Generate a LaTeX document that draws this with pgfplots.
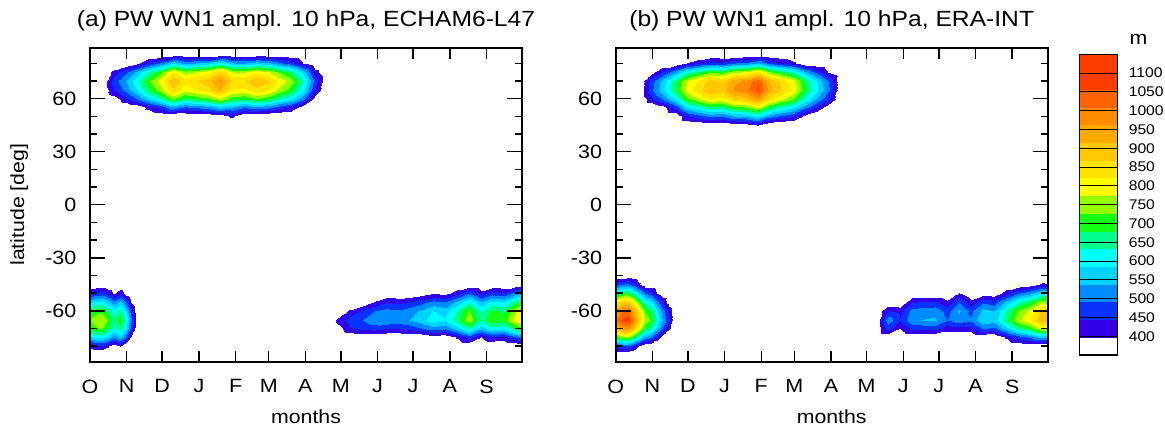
\documentclass[border=0pt]{standalone}
\usepackage{fontspec}
\setmainfont{Liberation Sans}[FakeStretch=1.12]
\usepackage{pgfplots}
\pgfplotsset{compat=1.18}
\pgfkeys{/pgf/number format/assume math mode=true, /pgf/number format/1000 sep={}}

% NCL-like colour table: white below 400, then one colour for every 50 m
\pgfplotsset{colormap={pw}{
  rgb255=(255,255,255) rgb255=(50,0,230) rgb255=(10,50,255) rgb255=(0,140,255)
  rgb255=(0,210,255) rgb255=(0,255,255) rgb255=(0,255,140) rgb255=(20,255,20)
  rgb255=(150,255,0) rgb255=(255,255,0) rgb255=(255,228,0) rgb255=(255,200,0)
  rgb255=(255,170,0) rgb255=(255,140,0) rgb255=(255,100,0) rgb255=(255,60,0)
  rgb255=(255,60,0)}}

\pgfplotsset{
  levels/.style={colormap name=pw, colormap access=piecewise constant,
    point meta min=350, point meta max=1150},
  panel/.style={
    scale only axis, width=216pt, height=157pt, anchor=south west,
    xmin=0, xmax=365, ymin=-88.8, ymax=88.8,
    xtick={0,31,61,92,123,151,182,212,243,273,304,335},
    xticklabels={O,N,D,J,F,M,A,M,J,J,A,S},
    ytick={-60,-30,0,30,60},
    minor ytick={-80,-70,-50,-40,-20,-10,10,20,40,50,70,80},
    tick align=inside,
    axis line style={line width=1pt},
    every tick/.style={black, line width=0.75pt},
    xtick style={/pgfplots/major tick length=5.5pt},
    ytick style={/pgfplots/major tick length=7.5pt},
    minor tick length=3.5pt,
    levels,
    axis on top,
    ticklabel style={font=\fontsize{9.6}{11}\selectfont},
    xticklabel style={yshift=-5.5pt},
    yticklabel style={xshift=-3.3pt},
    every axis title shift=0pt,
    title style={font=\fontsize{11}{13}\selectfont, anchor=base, yshift=10.4pt},
    label style={font=\fontsize{9.5}{11}\selectfont},
    xlabel=months,
    xlabel style={at={(axis description cs:0.5,-0.176)}, anchor=center},
  },
  blob/.style={surf, shader=interp, point meta=explicit,
    mesh/ordering=y varies, mesh/rows=11},
}

\begin{document}
\begin{tikzpicture}
\useasboundingbox (0,0) rectangle (582.5pt,215pt);

%% (a) ECHAM6-L47
\begin{axis}[panel, at={(45pt,34.15pt)},
  title={(a) PW WN1 ampl. 10 hPa, ECHAM6-L47},
  ylabel={latitude [deg]},
  ylabel style={at={(axis description cs:-0.164,0.5)}, anchor=center}]
% northern winter
\addplot[blob] table[x=x,y=y,meta=z] {
x y z
10 90 45
10 85 102
10 80 186
10 75 267
10 70 300
10 65 282
10 60 237
10 55 174
10 50 114
10 45 66
10 40 36
20 90 71
20 85 160
20 80 291
20 75 418
20 70 470
20 65 442
20 60 371
20 55 273
20 50 179
20 45 103
20 40 56
30 90 81
30 85 184
30 80 335
30 75 481
30 70 540
30 65 508
30 60 427
30 55 313
30 50 205
30 45 119
30 40 65
40 90 93
40 85 211
40 80 384
40 75 552
40 70 620
40 65 583
40 60 490
40 55 360
40 50 236
40 45 136
40 40 74
50 90 108
50 85 245
50 80 446
50 75 641
50 70 720
50 65 677
50 60 569
50 55 418
50 50 274
50 45 158
50 40 86
60 90 120
60 85 272
60 80 496
60 75 712
60 70 800
60 65 752
60 60 632
60 55 464
60 50 304
60 45 176
60 40 96
70 90 138
70 85 313
70 80 570
70 75 819
70 70 920
70 65 865
70 60 727
70 55 534
70 50 350
70 45 202
70 40 110
80 90 126
80 85 286
80 80 521
80 75 748
80 70 840
80 65 790
80 60 664
80 55 487
80 50 319
80 45 185
80 40 101
90 90 131
90 85 296
90 80 539
90 75 774
90 70 870
90 65 818
90 60 687
90 55 505
90 50 331
90 45 191
90 40 104
100 90 135
100 85 306
100 80 558
100 75 801
100 70 900
100 65 846
100 60 711
100 55 522
100 50 342
100 45 198
100 40 108
110 90 146
110 85 332
110 80 605
110 75 868
110 70 975
110 65 917
110 60 770
110 55 566
110 50 371
110 45 215
110 40 117
120 90 131
120 85 296
120 80 539
120 75 774
120 70 870
120 65 818
120 60 700
120 55 540
120 50 410
120 45 260
120 40 120
130 90 129
130 85 292
130 80 533
130 75 765
130 70 860
130 65 808
130 60 679
130 55 499
130 50 327
130 45 189
130 40 103
140 90 137
140 85 309
140 80 564
140 75 810
140 70 910
140 65 855
140 60 719
140 55 528
140 50 346
140 45 200
140 40 109
150 90 132
150 85 299
150 80 546
150 75 783
150 70 880
150 65 827
150 60 695
150 55 510
150 50 334
150 45 194
150 40 106
160 90 122
160 85 275
160 80 502
160 75 721
160 70 810
160 65 761
160 60 640
160 55 470
160 50 308
160 45 178
160 40 97
170 90 113
170 85 255
170 80 465
170 75 668
170 70 750
170 65 705
170 60 593
170 55 435
170 50 285
170 45 165
170 40 90
180 90 96
180 85 218
180 80 397
180 75 570
180 70 640
180 65 602
180 60 506
180 55 371
180 50 243
180 45 141
180 40 77
190 90 71
190 85 160
190 80 291
190 75 418
190 70 470
190 65 442
190 60 371
190 55 273
190 50 179
190 45 103
190 40 56
200 90 45
200 85 102
200 80 186
200 75 267
200 70 300
200 65 282
200 60 237
200 55 174
200 50 114
200 45 66
200 40 36
};
% southern spring, early
\addplot[blob] table[x=x,y=y,meta=z] {
x y z
0 -40 183
0 -45 299
0 -50 438
0 -55 569
0 -60 679
0 -65 730
0 -70 694
0 -75 577
0 -80 409
0 -85 248
0 -90 131
5 -40 190
5 -45 312
5 -50 456
5 -55 593
5 -60 707
5 -65 760
5 -70 722
5 -75 600
5 -80 426
5 -85 258
5 -90 137
10 -40 193
10 -45 316
10 -50 462
10 -55 601
10 -60 716
10 -65 770
10 -70 732
10 -75 608
10 -80 431
10 -85 262
10 -90 139
15 -40 180
15 -45 295
15 -50 432
15 -55 562
15 -60 670
15 -65 720
15 -70 684
15 -75 569
15 -80 403
15 -85 245
15 -90 130
20 -40 163
20 -45 267
20 -50 390
20 -55 507
20 -60 605
20 -65 650
20 -70 618
20 -75 514
20 -80 364
20 -85 221
20 -90 117
25 -40 178
25 -45 291
25 -50 426
25 -55 554
25 -60 660
25 -65 710
25 -70 675
25 -75 561
25 -80 398
25 -85 241
25 -90 128
30 -40 155
30 -45 254
30 -50 372
30 -55 484
30 -60 577
30 -65 620
30 -70 589
30 -75 490
30 -80 347
30 -85 211
30 -90 112
35 -40 125
35 -45 205
35 -50 300
35 -55 390
35 -60 465
35 -65 500
35 -70 475
35 -75 395
35 -80 280
35 -85 170
35 -90 90
40 -40 93
40 -45 152
40 -50 222
40 -55 289
40 -60 344
40 -65 370
40 -70 352
40 -75 292
40 -80 207
40 -85 126
40 -90 67
45 -40 63
45 -45 103
45 -50 150
45 -55 195
45 -60 233
45 -65 250
45 -70 238
45 -75 198
45 -80 140
45 -85 85
45 -90 45
};
% southern winter and spring
\addplot[blob] table[x=x,y=y,meta=z] {
x y z
200 -40 50
200 -45 80
200 -50 120
200 -55 160
200 -60 190
200 -65 200
200 -70 180
200 -75 130
200 -80 70
200 -85 30
200 -90 10
210 -40 60
210 -45 100
210 -50 150
210 -55 230
210 -60 330
210 -65 420
210 -70 380
210 -75 250
210 -80 120
210 -85 50
210 -90 20
220 -40 70
220 -45 110
220 -50 180
220 -55 290
220 -60 410
220 -65 470
220 -70 440
220 -75 320
220 -80 150
220 -85 60
220 -90 20
230 -40 80
230 -45 130
230 -50 220
230 -55 340
230 -60 450
230 -65 490
230 -70 460
230 -75 340
230 -80 170
230 -85 70
230 -90 25
240 -40 100
240 -45 170
240 -50 280
240 -55 400
240 -60 490
240 -65 520
240 -70 470
240 -75 360
240 -80 190
240 -85 80
240 -90 30
250 -40 143
250 -45 233
250 -50 339
250 -55 440
250 -60 509
250 -65 530
250 -70 456
250 -75 323
250 -80 186
250 -85 90
250 -90 32
260 -40 140
260 -45 229
260 -50 333
260 -55 432
260 -60 499
260 -65 520
260 -70 447
260 -75 317
260 -80 182
260 -85 88
260 -90 31
270 -40 146
270 -45 238
270 -50 346
270 -55 448
270 -60 518
270 -65 540
270 -70 464
270 -75 329
270 -80 189
270 -85 92
270 -90 32
280 -40 154
280 -45 251
280 -50 365
280 -55 473
280 -60 547
280 -65 570
280 -70 490
280 -75 348
280 -80 200
280 -85 97
280 -90 34
290 -40 165
290 -45 268
290 -50 390
290 -55 506
290 -60 586
290 -65 610
290 -70 525
290 -75 372
290 -80 214
290 -85 104
290 -90 37
300 -40 159
300 -45 260
300 -50 378
300 -55 490
300 -60 566
300 -65 590
300 -70 507
300 -75 360
300 -80 207
300 -85 100
300 -90 35
310 -40 178
310 -45 290
310 -50 422
310 -55 548
310 -60 634
310 -65 660
310 -70 568
310 -75 403
310 -80 231
310 -85 112
310 -90 40
320 -40 205
320 -45 334
320 -50 486
320 -55 631
320 -60 730
320 -65 760
320 -70 654
320 -75 464
320 -80 266
320 -85 129
320 -90 46
330 -40 176
330 -45 286
330 -50 416
330 -55 540
330 -60 624
330 -65 650
330 -70 559
330 -75 397
330 -80 228
330 -85 111
330 -90 39
340 -40 194
340 -45 317
340 -50 461
340 -55 598
340 -60 691
340 -65 720
340 -70 619
340 -75 439
340 -80 252
340 -85 122
340 -90 43
350 -40 189
350 -45 308
350 -50 448
350 -55 581
350 -60 672
350 -65 700
350 -70 602
350 -75 427
350 -80 245
350 -85 119
350 -90 42
360 -40 216
360 -45 352
360 -50 512
360 -55 664
360 -60 768
360 -65 800
360 -70 688
360 -75 488
360 -80 280
360 -85 136
360 -90 48
365 -40 224
365 -45 365
365 -50 531
365 -55 689
365 -60 797
365 -65 830
365 -70 714
365 -75 506
365 -80 291
365 -85 141
365 -90 50
};
\end{axis}

%% (b) ERA-Interim
\begin{axis}[panel, at={(307.85pt,34.15pt)},
  title={(b) PW WN1 ampl. 10 hPa, ERA-INT}]
% northern winter
\addplot[blob] table[x=x,y=y,meta=z] {
x y z
10 90 28
10 85 65
10 80 125
10 75 195
10 70 243
10 65 248
10 60 223
10 55 183
10 50 138
10 45 93
10 40 55
20 90 39
20 85 91
20 80 175
20 75 273
20 70 340
20 65 347
20 60 312
20 55 256
20 50 193
20 45 130
20 40 77
30 90 53
30 85 125
30 80 240
30 75 374
30 70 466
30 65 475
30 60 427
30 55 350
30 50 264
30 45 178
30 40 106
40 90 64
40 85 151
40 80 290
40 75 452
40 70 563
40 65 574
40 60 500
40 55 380
40 50 260
40 45 180
40 40 110
50 90 75
50 85 177
50 80 340
50 75 530
50 70 660
50 65 673
50 60 590
50 55 460
50 50 330
50 45 230
50 40 140
60 90 88
60 85 208
60 80 400
60 75 624
60 70 776
60 65 792
60 60 712
60 55 584
60 50 440
60 45 296
60 40 176
70 90 95
70 85 224
70 80 430
70 75 671
70 70 834
70 65 851
70 60 765
70 55 628
70 50 473
70 45 318
70 40 189
80 90 101
80 85 239
80 80 460
80 75 718
80 70 892
80 65 911
80 60 819
80 55 672
80 50 506
80 45 340
80 40 202
90 90 99
90 85 234
90 80 450
90 75 702
90 70 873
90 65 891
90 60 801
90 55 657
90 50 495
90 45 333
90 40 198
100 90 108
100 85 255
100 80 490
100 75 764
100 70 951
100 65 970
100 60 872
100 55 715
100 50 539
100 45 363
100 40 216
110 90 110
110 85 260
110 80 500
110 75 780
110 70 970
110 65 990
110 60 890
110 55 730
110 50 550
110 45 370
110 40 220
120 90 119
120 85 281
120 80 540
120 75 842
120 70 1048
120 65 1069
120 60 961
120 55 788
120 50 594
120 45 400
120 40 238
130 90 103
130 85 244
130 80 470
130 75 733
130 70 912
130 65 931
130 60 837
130 55 686
130 50 517
130 45 348
130 40 207
140 90 97
140 85 229
140 80 440
140 75 686
140 70 854
140 65 871
140 60 783
140 55 642
140 50 484
140 45 326
140 40 194
150 90 90
150 85 213
150 80 410
150 75 640
150 70 795
150 65 812
150 60 730
150 55 599
150 50 451
150 45 303
150 40 180
160 90 77
160 85 182
160 80 350
160 75 546
160 70 679
160 65 693
160 60 623
160 55 511
160 50 385
160 45 259
160 40 154
170 90 66
170 85 156
170 80 300
170 75 468
170 70 582
170 65 594
170 60 534
170 55 438
170 50 330
170 45 222
170 40 132
180 90 55
180 85 130
180 80 250
180 75 390
180 70 485
180 65 495
180 60 445
180 55 365
180 50 275
180 45 185
180 40 110
190 90 33
190 85 78
190 80 150
190 75 234
190 70 291
190 65 297
190 60 267
190 55 219
190 50 165
190 45 111
190 40 66
};
% southern spring, early
\addplot[blob] table[x=x,y=y,meta=z] {
x y z
0 -40 290
0 -45 460
0 -50 640
0 -55 820
0 -60 950
0 -65 1000
0 -70 910
0 -75 700
0 -80 450
0 -85 240
0 -90 110
5 -40 307
5 -45 488
5 -50 678
5 -55 869
5 -60 1007
5 -65 1060
5 -70 965
5 -75 742
5 -80 477
5 -85 254
5 -90 117
10 -40 313
10 -45 497
10 -50 691
10 -55 886
10 -60 1026
10 -65 1080
10 -70 983
10 -75 756
10 -80 486
10 -85 259
10 -90 119
15 -40 290
15 -45 460
15 -50 640
15 -55 820
15 -60 950
15 -65 1000
15 -70 910
15 -75 700
15 -80 450
15 -85 240
15 -90 110
20 -40 255
20 -45 405
20 -50 563
20 -55 722
20 -60 836
20 -65 880
20 -70 801
20 -75 616
20 -80 396
20 -85 211
20 -90 97
25 -40 220
25 -45 350
25 -50 486
25 -55 623
25 -60 722
25 -65 760
25 -70 692
25 -75 532
25 -80 342
25 -85 182
25 -90 84
30 -40 209
30 -45 331
30 -50 461
30 -55 590
30 -60 684
30 -65 720
30 -70 655
30 -75 504
30 -80 324
30 -85 173
30 -90 79
35 -40 180
35 -45 285
35 -50 397
35 -55 508
35 -60 589
35 -65 620
35 -70 564
35 -75 434
35 -80 279
35 -85 149
35 -90 68
40 -40 154
40 -45 244
40 -50 339
40 -55 435
40 -60 504
40 -65 530
40 -70 482
40 -75 371
40 -80 239
40 -85 127
40 -90 58
45 -40 131
45 -45 207
45 -50 288
45 -55 369
45 -60 428
45 -65 450
45 -70 410
45 -75 315
45 -80 203
45 -85 108
45 -90 50
50 -40 96
50 -45 152
50 -50 211
50 -55 271
50 -60 314
50 -65 330
50 -70 300
50 -75 231
50 -80 149
50 -85 79
50 -90 36
};
% southern winter and spring
\addplot[blob] table[x=x,y=y,meta=z] {
x y z
220 -40 40
220 -45 70
220 -50 110
220 -55 170
220 -60 250
220 -65 300
220 -70 270
220 -75 180
220 -80 90
220 -85 40
220 -90 10
230 -40 70
230 -45 120
230 -50 200
230 -55 320
230 -60 450
230 -65 520
230 -70 470
230 -75 330
230 -80 160
230 -85 60
230 -90 20
240 -40 80
240 -45 130
240 -50 220
240 -55 340
240 -60 430
240 -65 450
240 -70 400
240 -75 300
240 -80 150
240 -85 60
240 -90 20
250 -40 143
250 -45 233
250 -50 339
250 -55 440
250 -60 509
250 -65 530
250 -70 456
250 -75 323
250 -80 186
250 -85 90
250 -90 32
260 -40 146
260 -45 238
260 -50 346
260 -55 448
260 -60 518
260 -65 540
260 -70 464
260 -75 329
260 -80 189
260 -85 92
260 -90 32
270 -40 147
270 -45 240
270 -50 349
270 -55 452
270 -60 523
270 -65 545
270 -70 469
270 -75 332
270 -80 191
270 -85 93
270 -90 33
280 -40 132
280 -45 216
280 -50 314
280 -55 407
280 -60 470
280 -65 490
280 -70 421
280 -75 299
280 -80 172
280 -85 83
280 -90 29
290 -40 170
290 -45 290
290 -50 400
290 -55 490
290 -60 545
290 -65 520
290 -70 430
290 -75 300
290 -80 170
290 -85 80
290 -90 30
300 -40 135
300 -45 220
300 -50 320
300 -55 415
300 -60 480
300 -65 500
300 -70 430
300 -75 305
300 -80 175
300 -85 85
300 -90 30
310 -40 157
310 -45 255
310 -50 371
310 -55 481
310 -60 557
310 -65 580
310 -70 499
310 -75 354
310 -80 203
310 -85 99
310 -90 35
320 -40 151
320 -45 246
320 -50 358
320 -55 465
320 -60 538
320 -65 560
320 -70 482
320 -75 342
320 -80 196
320 -85 95
320 -90 34
330 -40 178
330 -45 290
330 -50 422
330 -55 548
330 -60 634
330 -65 660
330 -70 568
330 -75 403
330 -80 231
330 -85 112
330 -90 40
340 -40 205
340 -45 334
340 -50 486
340 -55 631
340 -60 730
340 -65 760
340 -70 654
340 -75 464
340 -80 266
340 -85 129
340 -90 46
350 -40 221
350 -45 361
350 -50 525
350 -55 681
350 -60 787
350 -65 820
350 -70 705
350 -75 500
350 -80 287
350 -85 139
350 -90 49
360 -40 248
360 -45 405
360 -50 589
360 -55 764
360 -60 883
360 -65 920
360 -70 791
360 -75 561
360 -80 322
360 -85 156
360 -90 55
365 -40 243
365 -45 396
365 -50 576
365 -55 747
365 -60 864
365 -65 900
365 -70 774
365 -75 549
365 -80 315
365 -85 153
365 -90 54
};
\end{axis}

%% colour key
\begin{axis}[at={(539.65pt,37.5pt)}, anchor=south west,
  scale only axis, width=19pt, height=150.35pt,
  xmin=0, xmax=1, ymin=350, ymax=1150,
  xtick=\empty, ytick={400,450,...,1100},
  yticklabel pos=right, major tick length=0pt,
  ymajorgrids, major grid style={black, line width=0.5pt},
  axis on top, axis line style={line width=0.75pt},
  levels,
  yticklabel style={font=\fontsize{7}{8}\selectfont, xshift=2.2pt},
  title={m}, every axis title shift=0pt,
  title style={font=\fontsize{9.5}{11}\selectfont, at={(1.56,1)}, anchor=base, yshift=5pt}]
\addplot[surf, shader=interp, point meta=explicit, mesh/rows=2] table[x=x,y=y,meta=z] {
x y z
0 350 350
1 350 350
0 1150 1150
1 1150 1150
};
\end{axis}
\end{tikzpicture}
\end{document}
